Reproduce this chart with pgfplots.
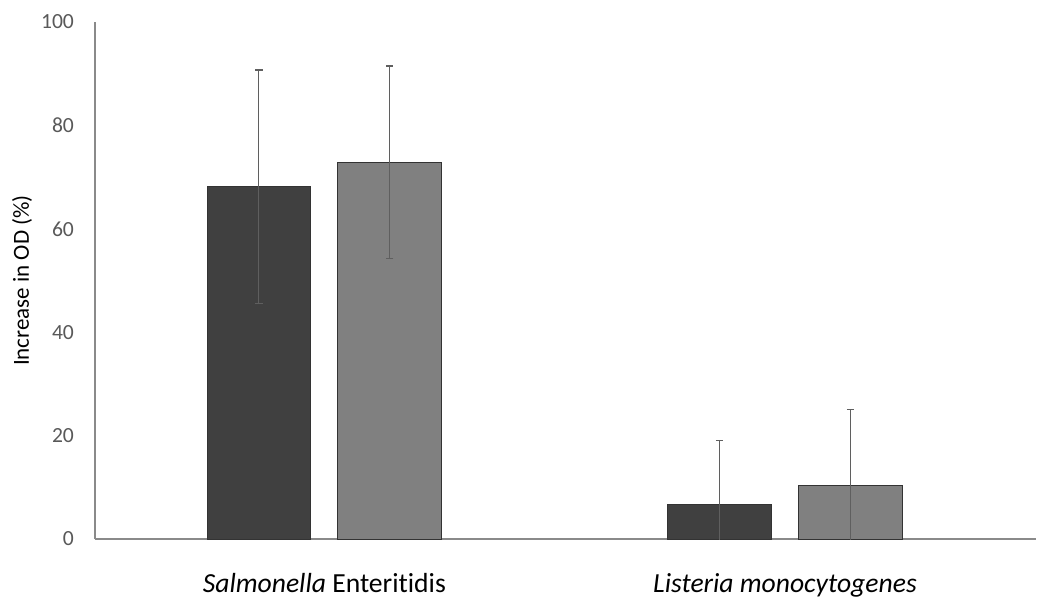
\documentclass[border=0pt]{standalone}
\usepackage{pgfplots}
\pgfplotsset{compat=1.18}
\usepackage{fontspec}
\setmainfont[Ligatures=NoCommon]{Carlito}

\definecolor{bardark}{HTML}{404040}
\definecolor{bargray}{HTML}{808080}
\definecolor{baredge}{HTML}{333333}
\definecolor{errcol}{HTML}{5F5F5F}
\definecolor{axiscol}{HTML}{8A8A8A}
\definecolor{labcol}{HTML}{595959}

\pgfplotstableread{
x      y     e
-0.142 68.1  22.6
0.858  6.6   12.5
}\darkdata

\pgfplotstableread{
x      y     e
0.142  72.9  18.6
1.142  10.3  14.7
}\graydata

\begin{document}
\begin{tikzpicture}
\useasboundingbox (-47.5pt,-31pt) rectangle (471pt,269.5pt);
\begin{axis}[
  at={(0,0)}, anchor=south west,
  scale only axis,
  width=470.5pt, height=258.5pt,
  xmin=-0.498, xmax=1.545,
  ymin=0, ymax=100,
  ytick={0,20,...,100},
  xtick={0,1},
  xticklabels={\textit{Salmonella} Enteritidis, \textit{Listeria monocytogenes}},
  major tick length=0pt,
  axis x line=bottom, axis y line=left,
  axis line style={-, draw=axiscol, line width=0.6pt},
  /pgf/number format/assume math mode=true,
  yticklabel style={font=\fontsize{10.8}{12}\selectfont, text=labcol, xshift=-7pt},
  xticklabel style={font=\fontsize{13.8}{15}\selectfont, text=black, yshift=-13.5pt},
  ylabel={Increase in OD (\%)},
  ylabel style={font=\fontsize{11.5}{13}\selectfont, at={(axis description cs:-0.0776,0.5)}, anchor=center},
  error bars/error bar style={draw=errcol, line width=0.5pt},
  error bars/error mark options={rotate=90, draw=errcol, mark size=1.8pt, line width=0.6pt},
]
\addplot[ybar, bar width=0.2256, bar shift=0pt, fill=bardark, draw=baredge, line width=0.5pt,
  error bars/.cd, y dir=both, y explicit]
  table[x=x, y=y, y error=e] {\darkdata};
\addplot[ybar, bar width=0.2256, bar shift=0pt, fill=bargray, draw=baredge, line width=0.5pt,
  error bars/.cd, y dir=both, y explicit]
  table[x=x, y=y, y error=e] {\graydata};
\end{axis}
\end{tikzpicture}
\end{document}
